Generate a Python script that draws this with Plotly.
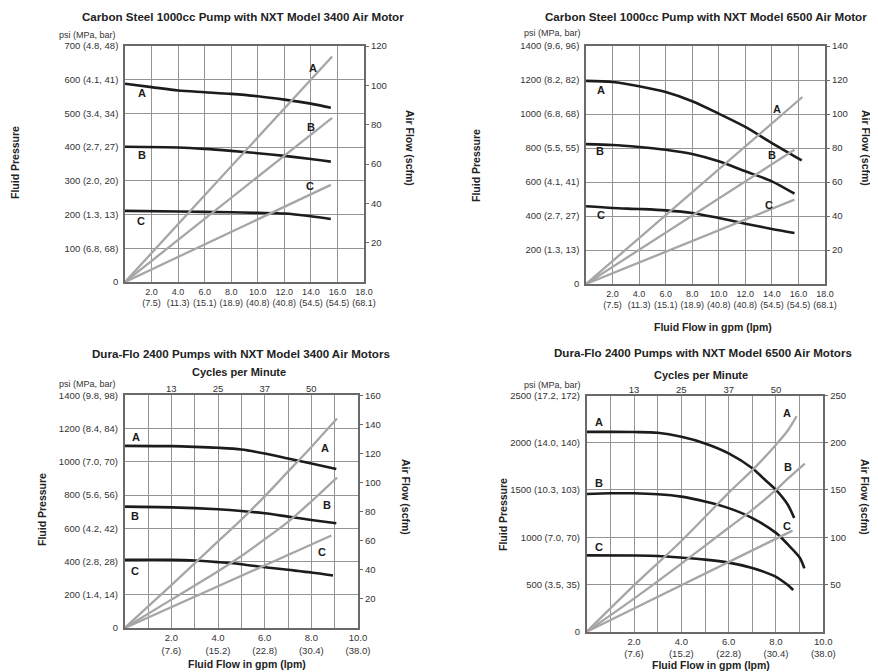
import plotly.graph_objects as go

# ---------------- Data ----------------
# Panel 1 - Carbon Steel 1000cc Pump with NXT Model 3400 Air Motor
p1_gpm_A = [0, 2, 4, 6, 8, 10, 12, 14, 15.5]
p1_psi_A = [588, 578, 568, 563, 558, 551, 541, 529, 517]
p1_gpm_B = [0, 4, 6, 8, 10, 12, 14, 15.5]
p1_psi_B = [401, 399, 395, 389, 382, 374, 365, 357]
p1_gpm_C = [0, 4, 8, 10, 12, 14, 15.5]
p1_psi_C = [211, 209, 207, 205, 203, 195, 187]
p1_air_gpm_A = [0, 15.6]
p1_scfm_A = [0, 114.7]
p1_air_gpm_B = [0, 15.6]
p1_scfm_B = [0, 83.5]
p1_air_gpm_C = [0, 15.5]
p1_scfm_C = [0, 49.4]
p1_x_ticks = [2, 4, 6, 8, 10, 12, 14, 16, 18]
p1_x_labels = ["2.0<br>(7.5)", "4.0<br>(11.3)", "6.0<br>(15.1)", "8.0<br>(18.9)", "10.0<br>(40.8)",
               "12.0<br>(40.8)", "14.0<br>(54.5)", "16.0<br>(54.5)", "18.0<br>(68.1)"]
p1_psi_ticks = [0, 100, 200, 300, 400, 500, 600, 700]
p1_psi_labels = ["0", "100 (6.8, 68)", "200 (1.3, 13)", "300 (2.0, 20)", "400 (2.7, 27)",
                 "500 (3.4, 34)", "600 (4.1, 41)", "700 (4.8, 48)"]
p1_scfm_ticks = [20, 40, 60, 80, 100, 120]

# Panel 2 - Carbon Steel 1000cc Pump with NXT Model 6500 Air Motor
p2_gpm_A = [0, 2, 4, 6, 8, 10, 12, 14, 16.25]
p2_psi_A = [1195, 1188, 1163, 1129, 1075, 1002, 924, 829, 727]
p2_gpm_B = [0, 2, 4, 6, 8, 10, 12, 14, 15.7]
p2_psi_B = [823, 818, 806, 790, 765, 722, 663, 604, 531]
p2_gpm_C = [0, 2, 4, 6, 8, 10, 12, 14, 15.7]
p2_psi_C = [457, 447, 441, 433, 418, 388, 355, 324, 300]
p2_air_gpm_A = [0, 16.3]
p2_scfm_A = [0, 110]
p2_air_gpm_B = [0, 15.7]
p2_scfm_B = [0, 79]
p2_air_gpm_C = [0, 15.7]
p2_scfm_C = [0, 49.6]
p2_x_ticks = p1_x_ticks
p2_x_labels = p1_x_labels
p2_psi_ticks = [0, 200, 400, 600, 800, 1000, 1200, 1400]
p2_psi_labels = ["0", "200 (1.3, 13)", "400 (2.7, 27)", "600 (4.1, 41)", "800 (5.5, 55)",
                 "1000 (6.8, 68)", "1200 (8.2, 82)", "1400 (9.6, 96)"]
p2_scfm_ticks = [20, 40, 60, 80, 100, 120, 140]

# Panel 3 - Dura-Flo 2400 Pumps with NXT Model 3400 Air Motors
p3_gpm_A = [0, 2, 3, 4, 5, 6, 7, 8, 9.07]
p3_psi_A = [1096, 1094, 1090, 1084, 1074, 1050, 1020, 990, 956]
p3_gpm_B = [0, 2, 4, 5, 6, 7, 8, 9.07]
p3_psi_B = [730, 726, 714, 704, 690, 670, 650, 630]
p3_gpm_C = [0, 2, 3, 4, 5, 6, 7, 8, 8.93]
p3_psi_C = [410, 410, 406, 396, 384, 366, 350, 334, 316]
p3_air_gpm_A = [0, 2, 4, 5, 6, 7, 8, 9.1]
p3_scfm_A = [0, 29.5, 59.5, 74.5, 90.5, 107.5, 124.5, 144]
p3_air_gpm_B = [0, 2, 4, 5, 6, 7, 8, 8.5, 9.1]
p3_scfm_B = [0, 19.5, 39, 49.5, 61, 73, 87, 94.5, 103.4]
p3_air_gpm_C = [0, 8.86]
p3_scfm_C = [0, 63.6]
p3_x_ticks = [1, 2, 3, 4, 5, 6, 7, 8, 9, 10]
p3_x_labels = ["", "2.0<br>(7.6)", "", "4.0<br>(15.2)", "", "6.0<br>(22.8)", "", "8.0<br>(30.4)", "", "10.0<br>(38.0)"]
p3_psi_ticks = [0, 200, 400, 600, 800, 1000, 1200, 1400]
p3_psi_labels = ["0", "200 (1.4, 14)", "400 (2.8, 28)", "600 (4.2, 42)", "800 (5.6, 56)",
                 "1000 (7.0, 70)", "1200 (8.4, 84)", "1400 (9.8, 98)"]
p3_scfm_ticks = [20, 40, 60, 80, 100, 120, 140, 160]

# Panel 4 - Dura-Flo 2400 Pumps with NXT Model 6500 Air Motors
p4_gpm_A = [0, 1, 2, 3, 4, 5, 6, 7, 7.5, 8, 8.5, 8.77]
p4_psi_A = [2115, 2115, 2113, 2105, 2063, 1993, 1888, 1731, 1616, 1500, 1343, 1204]
p4_gpm_B = [0, 1, 2, 3, 4, 5, 6, 7, 8, 8.5, 9, 9.2]
p4_psi_B = [1458, 1465, 1465, 1455, 1430, 1378, 1308, 1203, 1046, 924, 785, 670]
p4_gpm_C = [0, 2, 3, 4, 5, 6, 7, 7.5, 8, 8.5, 8.73]
p4_psi_C = [808, 806, 801, 784, 763, 731, 675, 633, 581, 494, 442]
p4_air_gpm_A = [0, 2, 4, 6, 7, 7.5, 8, 8.5, 8.87]
p4_scfm_A = [0, 49, 96, 147, 171, 184, 198, 213, 228]
p4_air_gpm_B = [0, 2, 4, 6, 7, 8, 8.5, 9.22]
p4_scfm_B = [0, 35, 72, 110, 129, 150, 162, 178]
p4_air_gpm_C = [0, 8.7]
p4_scfm_C = [0, 107]
p4_x_ticks = p3_x_ticks
p4_x_labels = p3_x_labels
p4_psi_ticks = [0, 500, 1000, 1500, 2000, 2500]
p4_psi_labels = ["0", "500 (3.5, 35)", "1000 (7.0, 70)", "1500 (10.3, 103)", "2000 (14.0, 140)",
                 "2500 (17.2, 172)"]
p4_scfm_ticks = [50, 100, 150, 200, 250]

# Cycles per minute (top axis of the Dura-Flo charts)
cycle_tick_gpm = [2, 4, 6, 8]
cycles_per_minute = ["13", "25", "37", "50"]

titles = [
    "Carbon Steel 1000cc Pump with NXT Model 3400 Air Motor",
    "Carbon Steel 1000cc Pump with NXT Model 6500 Air Motor",
    "Dura-Flo 2400 Pumps with NXT Model 3400 Air Motors",
    "Dura-Flo 2400 Pumps with NXT Model 6500 Air Motors",
]

# ---------------- Styling ----------------
# The page body has an 8px margin; the figure is sized so that it fills the
# 878x672 window, and target window pixels are mapped into it.
OFF = 8
W, H = 878 - OFF, 672 - OFF
FONT = "Liberation Sans, Arial, Helvetica, sans-serif"
TXT = "#333333"
DARK = "#1c1c1c"
LIGHT = "#a6a6a6"
GRID = "#949494"
FRAME = "#6a6a6a"

def px(xp):
    return (xp - OFF) / W

def py(yp):
    return 1 - (yp - OFF) / H

panels = [
    dict(x="x", y="y", y2="y2", xdom=[px(125), px(364)], ydom=[py(282), py(46)],
         xr=[0, 18], yr=[0, 700], y2r=[0, 120], xfs=9,
         pr=[(p1_gpm_A, p1_psi_A), (p1_gpm_B, p1_psi_B), (p1_gpm_C, p1_psi_C)],
         af=[(p1_air_gpm_A, p1_scfm_A), (p1_air_gpm_B, p1_scfm_B), (p1_air_gpm_C, p1_scfm_C)],
         xt=(p1_x_ticks, p1_x_labels), yt=(p1_psi_ticks, p1_psi_labels), y2t=p1_scfm_ticks,
         plab=[(1.25, 560), (1.3, 377), (1.2, 180)], flab=[(14.15, 109), (14.0, 78.6), (13.9, 48.6)]),
    dict(x="x2", y="y3", y2="y4", xdom=[px(586), px(825)], ydom=[py(284), py(46)],
         xr=[0, 18], yr=[0, 1400], y2r=[0, 140], xfs=9,
         pr=[(p2_gpm_A, p2_psi_A), (p2_gpm_B, p2_psi_B), (p2_gpm_C, p2_psi_C)],
         af=[(p2_air_gpm_A, p2_scfm_A), (p2_air_gpm_B, p2_scfm_B), (p2_air_gpm_C, p2_scfm_C)],
         xt=(p2_x_ticks, p2_x_labels), yt=(p2_psi_ticks, p2_psi_labels), y2t=p2_scfm_ticks,
         plab=[(1.1, 1139), (1.05, 780), (1.1, 404)], flab=[(14.4, 103), (14.0, 76), (13.8, 46.7)]),
    dict(x="x3", y="y5", y2="y6", xdom=[px(124.7), px(358)], ydom=[py(628), py(395.3)],
         xr=[0, 10], yr=[0, 1400], y2r=[0, 160], top="x4", xfs=9.5,
         pr=[(p3_gpm_A, p3_psi_A), (p3_gpm_B, p3_psi_B), (p3_gpm_C, p3_psi_C)],
         af=[(p3_air_gpm_A, p3_scfm_A), (p3_air_gpm_B, p3_scfm_B), (p3_air_gpm_C, p3_scfm_C)],
         xt=(p3_x_ticks, p3_x_labels), yt=(p3_psi_ticks, p3_psi_labels), y2t=p3_scfm_ticks,
         plab=[(0.5, 1150), (0.43, 674), (0.46, 340)], flab=[(8.6, 124), (8.69, 84.7), (8.46, 52)]),
    dict(x="x5", y="y7", y2="y8", xdom=[px(586.7), px(823.3)], ydom=[py(631.7), py(395.5)],
         xr=[0, 10], yr=[0, 2500], y2r=[0, 250], top="x6", xfs=9.5,
         pr=[(p4_gpm_A, p4_psi_A), (p4_gpm_B, p4_psi_B), (p4_gpm_C, p4_psi_C)],
         af=[(p4_air_gpm_A, p4_scfm_A), (p4_air_gpm_B, p4_scfm_B), (p4_air_gpm_C, p4_scfm_C)],
         xt=(p4_x_ticks, p4_x_labels), yt=(p4_psi_ticks, p4_psi_labels), y2t=p4_scfm_ticks,
         plab=[(0.5, 2220), (0.54, 1570), (0.52, 895)], flab=[(8.48, 231), (8.52, 174), (8.45, 112)]),
]

def lname(ref):
    return ref[0] + "axis" + ref[1:]

fig = go.Figure()
layout = {}
annotations = []
letters = ["A", "B", "C"]
tickfont = dict(family=FONT, size=9.5, color=TXT)

for p in panels:
    for (xs, ys) in p["af"]:
        fig.add_trace(go.Scatter(x=xs, y=ys, xaxis=p["x"], yaxis=p["y2"], mode="lines",
                                 line=dict(color=LIGHT, width=2.3, shape="spline", smoothing=1.0),
                                 showlegend=False, hoverinfo="skip"))
    for (xs, ys) in p["pr"]:
        fig.add_trace(go.Scatter(x=xs, y=ys, xaxis=p["x"], yaxis=p["y"], mode="lines",
                                 line=dict(color=DARK, width=2.6, shape="spline", smoothing=0.8),
                                 showlegend=False, hoverinfo="skip"))
    layout[lname(p["x"])] = dict(
        domain=p["xdom"], anchor=p["y"], range=p["xr"], tickmode="array",
        tickvals=p["xt"][0], ticktext=p["xt"][1], showgrid=True, gridcolor=GRID, gridwidth=1.2,
        showline=True, linecolor=FRAME, linewidth=1.6, mirror=True, ticks="", zeroline=False,
        tickangle=0, automargin=False,
        tickfont=dict(family=FONT, size=p["xfs"], color=TXT), fixedrange=True)
    layout[lname(p["y"])] = dict(
        domain=p["ydom"], anchor=p["x"], range=p["yr"], tickmode="array",
        tickvals=p["yt"][0], ticktext=p["yt"][1], showgrid=True, gridcolor=GRID, gridwidth=1.2,
        showline=True, linecolor=FRAME, linewidth=1.6, mirror=True, ticks="", zeroline=False,
        automargin=False, tickfont=tickfont, ticklabelstandoff=3, fixedrange=True)
    layout[lname(p["y2"])] = dict(
        overlaying=p["y"], side="right", anchor=p["x"], range=p["y2r"], tickmode="array",
        tickvals=p["y2t"], showgrid=False, showline=False, ticks="outside", ticklen=4,
        tickcolor=FRAME, zeroline=False, automargin=False, tickfont=tickfont, fixedrange=True)
    if "top" in p:
        fig.add_trace(go.Scatter(x=cycle_tick_gpm, y=[None] * len(cycle_tick_gpm),
                                 xaxis=p["top"], yaxis=p["y"], mode="markers",
                                 showlegend=False, hoverinfo="skip"))
        layout[lname(p["top"])] = dict(
            overlaying=p["x"], side="top", anchor=p["y"], range=p["xr"], tickmode="array",
            tickvals=cycle_tick_gpm, ticktext=cycles_per_minute, showgrid=False, showline=False,
            ticks="", zeroline=False, tickangle=0, automargin=False, tickfont=tickfont,
            fixedrange=True)
    for (lx, ly), t in zip(p["plab"], letters):
        annotations.append(dict(x=lx, y=ly, xref=p["x"], yref=p["y"], text="<b>%s</b>" % t,
                                showarrow=False, font=dict(family=FONT, size=11, color=DARK)))
    for (lx, ly), t in zip(p["flab"], letters):
        annotations.append(dict(x=lx, y=ly, xref=p["x"], yref=p["y2"], text="<b>%s</b>" % t,
                                showarrow=False, font=dict(family=FONT, size=11, color=DARK)))

def note(text, xp, yp, size=9.5, bold=False, angle=0):
    annotations.append(dict(x=px(xp), y=py(yp), xref="paper", yref="paper",
                            text=("<b>%s</b>" % text) if bold else text, textangle=angle,
                            showarrow=False, xanchor="center", yanchor="middle",
                            font=dict(family=FONT, size=size, color=TXT if not bold else "#222222")))

# titles
note(titles[0], 243, 17, size=11.6, bold=True)
note(titles[1], 706, 17, size=11.6, bold=True)
note(titles[2], 241, 353, size=11.6, bold=True)
note(titles[3], 703, 352, size=11.6, bold=True)
# psi (MPa, bar)
for (xp, yp) in [(87, 35), (552, 33), (87, 384), (552, 385)]:
    note("psi (MPa, bar)", xp, yp, size=9)
# cycles per minute
note("Cycles per Minute", 239, 372, size=11, bold=True)
note("Cycles per Minute", 701, 375, size=11, bold=True)
# Fluid Pressure
for (xp, yp) in [(15, 163), (476, 165), (42, 510), (503, 515)]:
    note("Fluid Pressure", xp, yp, size=10.5, bold=True, angle=-90)
# Air Flow (scfm)
for (xp, yp) in [(410, 148), (866, 148), (406, 497), (865, 497)]:
    note("Air Flow (scfm)", xp, yp, size=10.5, bold=True, angle=90)
# Fluid flow
note("Fluid Flow in gpm (lpm)", 713, 327, size=10.5, bold=True)
note("Fluid Flow in gpm (lpm)", 247, 664, size=10.5, bold=True)
note("Fluid Flow in gpm (lpm)", 711, 665, size=10.5, bold=True)

fig.update_layout(
    template="none",
    width=W, height=H, margin=dict(l=0, r=0, t=0, b=0, autoexpand=False),
    paper_bgcolor="white", plot_bgcolor="white", showlegend=False,
    annotations=annotations, font=dict(family=FONT, color=TXT), **layout)

fig.write_html("out.html")
